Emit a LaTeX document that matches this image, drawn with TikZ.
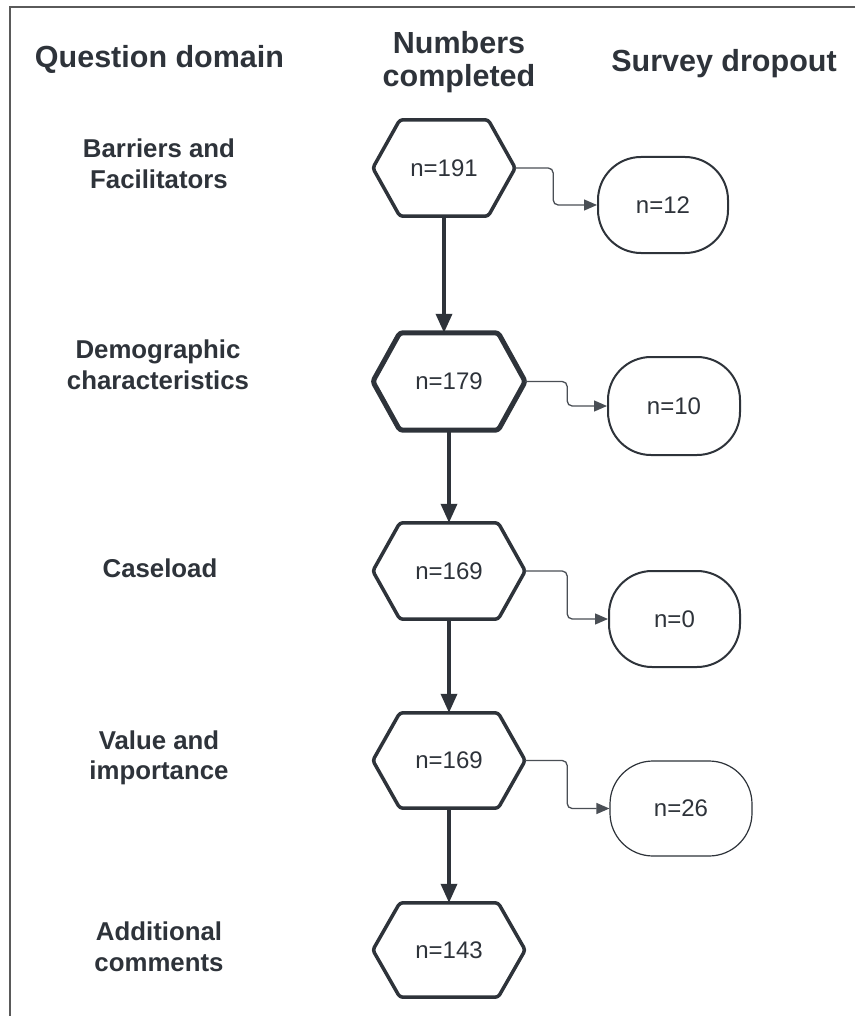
\documentclass[tikz,border=0pt]{standalone}
\usepackage{fontspec}
\setmainfont{Liberation Sans}
\usetikzlibrary{arrows.meta,calc}
\definecolor{ink}{HTML}{2E333A}
\definecolor{framegray}{HTML}{5A5A5A}
\definecolor{conn}{HTML}{4A4F55}
\begin{document}
\begin{tikzpicture}[x=1pt,y=-1pt,
  headtxt/.style={font=\fontsize{30.5}{33}\selectfont\bfseries, text=ink, align=center, inner sep=0},
  domlabel/.style={font=\fontsize{25.8}{30.5}\selectfont\bfseries, text=ink, align=center, inner sep=0},
  hexbox/.style={minimum width=152, minimum height=96, inner sep=0, font=\fontsize{24}{28}\selectfont, text=ink},
  hexline/.style={draw=ink, line width=3.5pt, rounded corners=3pt, line join=round},
  dropbox/.style={draw=ink, line width=2pt, rounded corners=43pt, minimum width=131, minimum height=96, inner sep=0, font=\fontsize{24}{28}\selectfont, text=ink},
  flow/.style={draw=ink, line width=3.5pt, -{Triangle[length=19pt,width=16pt]}},
  drop/.style={draw=conn, line width=1.3pt, rounded corners=5pt, -{Triangle[length=13pt,width=11pt]}}
]
\useasboundingbox (0,0) rectangle (855,1016);
\fill[white] (0,0) rectangle (855,1016);
\draw[draw=framegray, line width=2pt] (855,7) -- (10,7) -- (10,1016);

% headers
\node[headtxt, anchor=base] (qd) at (159.5,68) {Question domain};
\node[headtxt] (nc) at (459,62.5) {Numbers\\completed};
\node[headtxt, anchor=base] (sd) at (724,72) {Survey dropout};

% domain labels
\node[domlabel] (l1) at (159,164) {Barriers and\\Facilitators};
\node[domlabel] (l2) at (158,365) {Demographic\\characteristics};
\node[domlabel] (l3) at (160,568) {Caseload};
\node[domlabel] (l4) at (159,758) {Value and\\importance};
\node[domlabel] (l5) at (159,947) {Additional\\comments};

% completed hexagons
\node[hexbox, minimum width=142] (h1) at (444,168) {n=191};
\node[hexbox, minimum height=97] (h2) at (449,381.5) {n=179};
\node[hexbox] (h3) at (449,571) {n=169};
\node[hexbox, minimum height=95] (h4) at (449,760.5) {n=169};
\node[hexbox, minimum height=94] (h5) at (449,950) {n=143};

\foreach \n in {h1,h3,h4,h5}
  \draw[hexline] (\n.west) -- ($(\n.north west)+(27,0)$) -- ($(\n.north east)+(-27,0)$) -- (\n.east)
    -- ($(\n.south east)+(-27,0)$) -- ($(\n.south west)+(27,0)$) -- cycle;
\draw[hexline, line width=5pt] (h2.west) -- ($(h2.north west)+(27,0)$) -- ($(h2.north east)+(-27,0)$) -- (h2.east)
    -- ($(h2.south east)+(-27,0)$) -- ($(h2.south west)+(27,0)$) -- cycle;

% dropout boxes
\node[dropbox, minimum width=130] (d1) at (663,205) {n=12};
\node[dropbox, minimum width=132, minimum height=98] (d2) at (674,406) {n=10};
\node[dropbox] (d3) at (674.5,619) {n=0};
\node[dropbox, minimum width=142, minimum height=95, line width=1.2pt] (d4) at (681,808.5) {n=26};

% flow arrows
\draw[flow] (h1.south) -- (h1.south |- h2.north);
\draw[flow] (h2.south) -- (h3.north);
\draw[flow] (h3.south) -- (h4.north);
\draw[flow] (h4.south) -- (h5.north);

% dropout connectors
\draw[drop] (h1.east) -- ++(38,0) |- (d1.west);
\draw[drop] (h2.east) -- ++(42,0) |- (d2.west);
\draw[drop] (h3.east) -- ++(42,0) |- (d3.west);
\draw[drop] (h4.east) -- ++(42,0) |- (d4.west);
\end{tikzpicture}
\end{document}
